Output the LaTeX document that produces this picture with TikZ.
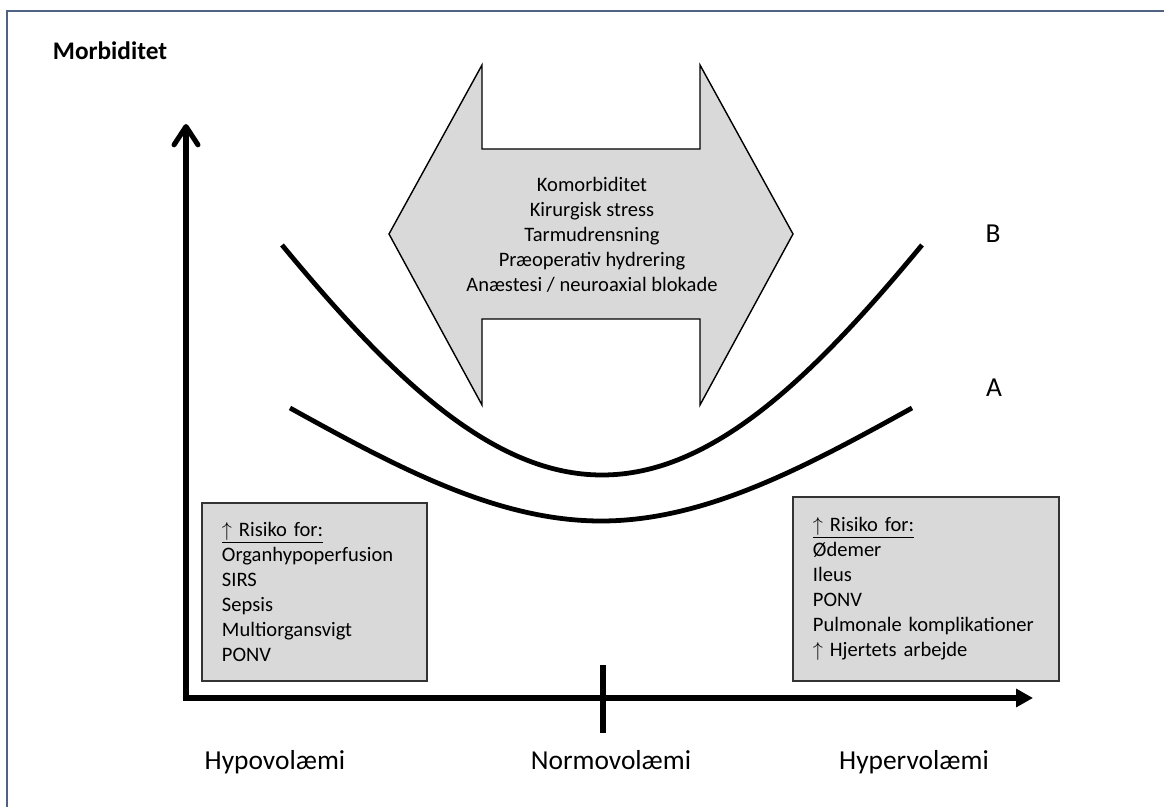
\documentclass[tikz,border=0pt]{standalone}
\usepackage{fontspec}
\setmainfont{Carlito}
\usetikzlibrary{arrows.meta}
\definecolor{framecol}{RGB}{79,98,130}
\definecolor{boxgray}{RGB}{217,217,217}
\newcommand{\boxfont}{\fontsize{14.6}{17.8}\selectfont}

\begin{document}
\begin{tikzpicture}[x=0.025cm, y=-0.025cm,
    axis/.style={line width=3.6pt},
    curve/.style={line width=3.4pt},
    riskbox/.style={draw=black!80, line width=1pt, fill=boxgray, align=left, inner xsep=0.5cm, font=\boxfont},
    axislabel/.style={anchor=base, font=\fontsize{19.5}{23}\selectfont}]
    \useasboundingbox (0,0) rectangle (1164,807);
    \draw[framecol, line width=1.6pt] (7,807) -- (7,11) -- (1164,11);

    % double arrow with the factors
    \draw[fill=boxgray, line width=1pt] (389,234) -- (482,65) -- (482,149) -- (700,149) -- (700,65) -- (793,234)
        -- (700,405) -- (700,319) -- (482,319) -- (482,405) -- cycle;
    \node[font=\boxfont, align=center] (factors) at (592,235) {Komorbiditet\\Kirurgisk stress\\Tarmudrensning\\Præoperativ hydrering\\Anæstesi / neuroaxial blokade};

    % curves
    \draw[curve] (282,245) .. controls (392,378) and (492,475) .. (602,475) .. controls (712,475) and (812,378) .. (922,245);
    \draw[curve] (290,408) .. controls (395,466) and (496,521) .. (601,521) .. controls (706,521) and (807,466) .. (912,408);
    \node[axislabel] (labB) at (993,243) {B};
    \node[axislabel] (labA) at (994,396) {A};

    % axes
    \coordinate (ytop) at (186,124);
    \coordinate (origin) at (186,698);
    \coordinate (xend) at (1033,698);
    \draw[axis, {Straight Barb[length=13pt,width=17pt,round]}-{Triangle[length=12pt,width=12.5pt]}] (ytop) -- (origin) -- (xend);
    \draw[axis] (603,665) -- (603,733);

    \node[anchor=base, font=\bfseries\fontsize{18}{22}\selectfont] (morb) at (110,60) {Morbiditet};
    \node[axislabel] (hypo) at (275,769) {Hypovolæmi};
    \node[axislabel] (normo) at (611,769) {Normovolæmi};
    \node[axislabel] (hyper) at (914,769) {Hypervolæmi};

    % risk boxes
    \node[riskbox, text width=4.625cm, minimum height=4.45cm] (hyporisk) at (314.5,592)
        {\underline{$\uparrow$ Risiko for:}\\Organhypoperfusion\\SIRS\\Sepsis\\Multiorgansvigt\\PONV};
    \node[riskbox, text width=5.65cm, minimum height=4.6cm] (hyperrisk) at (926,589)
        {\underline{$\uparrow$ Risiko for:}\\Ødemer\\Ileus\\PONV\\Pulmonale komplikationer\\$\uparrow$ Hjertets arbejde};
\end{tikzpicture}
\end{document}
